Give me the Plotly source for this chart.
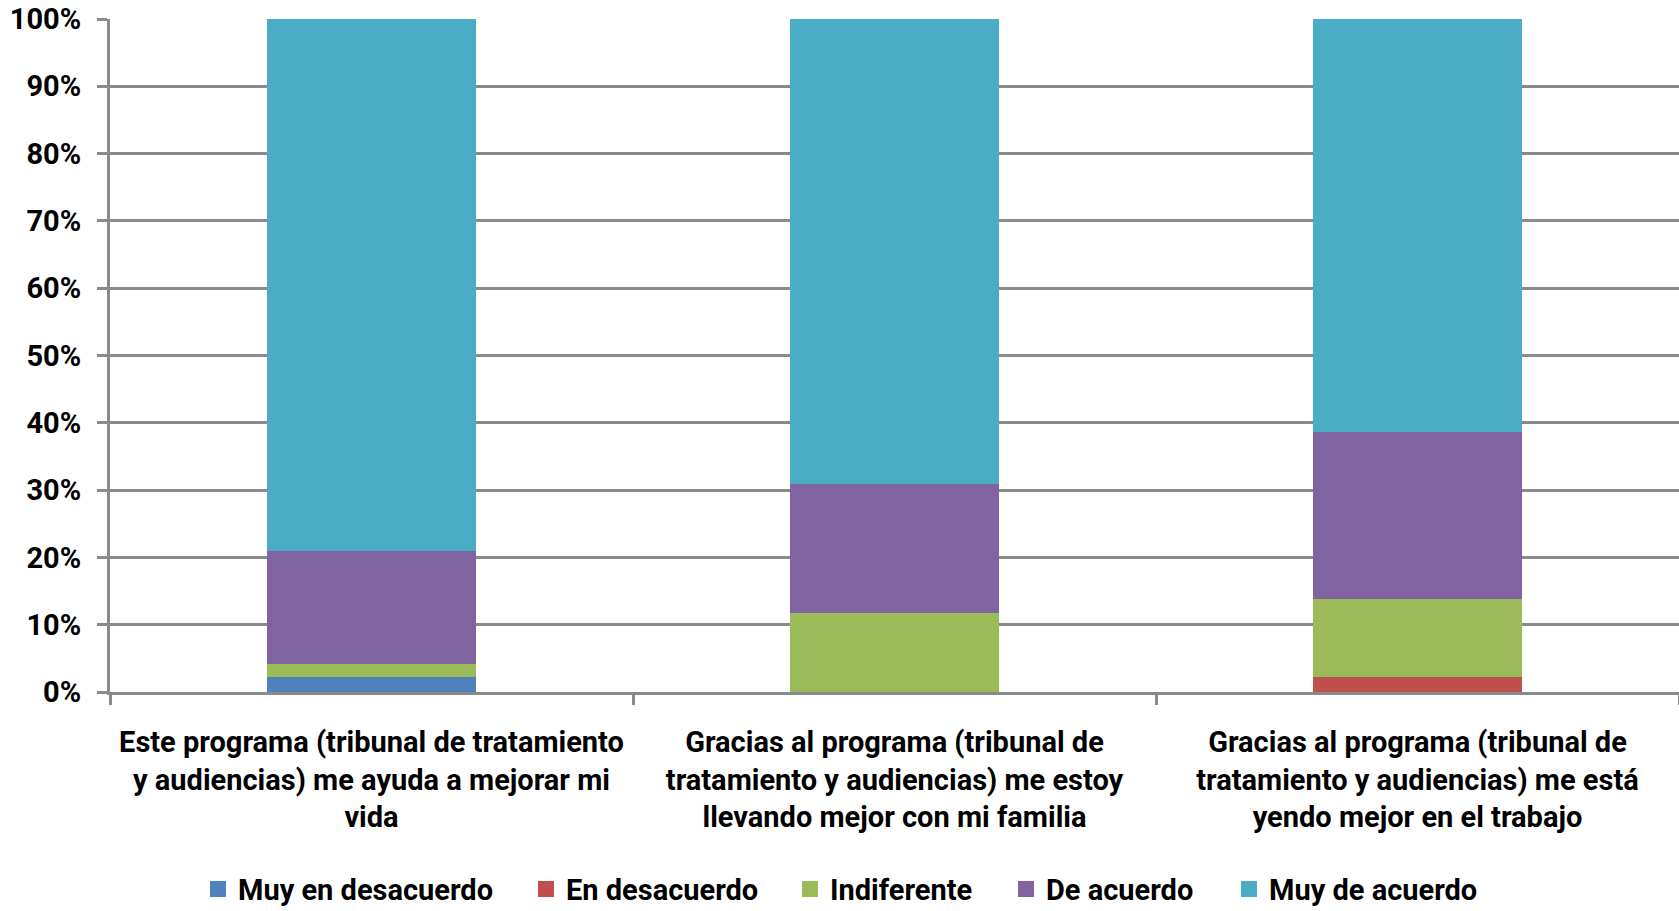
import plotly.graph_objects as go

categories = [
    "Este programa (tribunal de tratamiento<br>y audiencias) me ayuda a mejorar mi<br>vida",
    "Gracias al programa (tribunal de<br>tratamiento y audiencias) me estoy<br>llevando mejor con mi familia",
    "Gracias al programa (tribunal de<br>tratamiento y audiencias) me está<br>yendo mejor en el trabajo",
]
series_names = ["Muy en desacuerdo", "En desacuerdo", "Indiferente", "De acuerdo", "Muy de acuerdo"]
muy_en_desacuerdo = [0.022, 0.0, 0.0]
en_desacuerdo = [0.0, 0.0, 0.023]
indiferente = [0.020, 0.117, 0.115]
de_acuerdo = [0.167, 0.192, 0.249]
muy_de_acuerdo = [0.791, 0.691, 0.613]
colors = ["#4F81BD", "#C0504D", "#9BBB59", "#8064A2", "#4BACC6"]
legend_x_px = [198, 526, 790, 1006, 1229]

values = [muy_en_desacuerdo, en_desacuerdo, indiferente, de_acuerdo, muy_de_acuerdo]
FONT = "Roboto, sans-serif"
W, H = 1679, 911
ML, MR, MT, MB = 110, 0, 19, 219

fig = go.Figure()
for i, (name, vals, col) in enumerate(zip(series_names, values, colors)):
    lg = "legend" if i == 0 else f"legend{i+1}"
    fig.add_trace(go.Bar(x=categories, y=vals, name=name, showlegend=False,
                         marker=dict(color=col, line=dict(width=0))))
    fig.add_trace(go.Scatter(x=[categories[0]], y=[None], mode="markers", name=name,
                             legend=lg, showlegend=True,
                             marker=dict(symbol="square", size=16, color=col)))

legend_common = dict(orientation="h", yanchor="middle", y=-0.293, xanchor="left",
                     font=dict(family=FONT, size=29, color="black", weight="bold"),
                     itemwidth=30, bgcolor="rgba(0,0,0,0)")
layout_legends = {}
for i, px in enumerate(legend_x_px):
    key = "legend" if i == 0 else f"legend{i+1}"
    layout_legends[key] = dict(legend_common, x=(px - ML) / (W - ML - MR))

fig.update_layout(
    barmode="stack",
    bargap=0.6,
    width=W, height=H,
    margin=dict(l=ML, r=MR, t=MT, b=MB, autoexpand=False),
    plot_bgcolor="white", paper_bgcolor="white",
    font=dict(family=FONT, size=28, color="black", weight="bold"),
    **layout_legends,
)
fig.update_yaxes(range=[0, 1], dtick=0.1, tickformat=".0%", showgrid=True,
                 gridcolor="#8A8A8A", gridwidth=3, showline=True, linecolor="#8A8A8A", linewidth=3,
                 ticks="outside", ticklen=10, tickcolor="#8A8A8A", tickwidth=3,
                 ticklabelstandoff=10, zeroline=False, automargin=False,
                 tickfont=dict(family=FONT, size=29, color="black", weight="bold"))
fig.update_xaxes(showline=True, linecolor="#8A8A8A", linewidth=3, ticks="outside",
                 tickson="boundaries", ticklen=10, tickcolor="#8A8A8A", tickwidth=3,
                 automargin=False,
                 tickfont=dict(family=FONT, size=29, color="black", weight="bold"), ticklabelstandoff=22)

fig.write_html("out.html", config={"displayModeBar": False},
               post_script="document.body.style.margin='0';document.body.style.overflow='hidden';")
